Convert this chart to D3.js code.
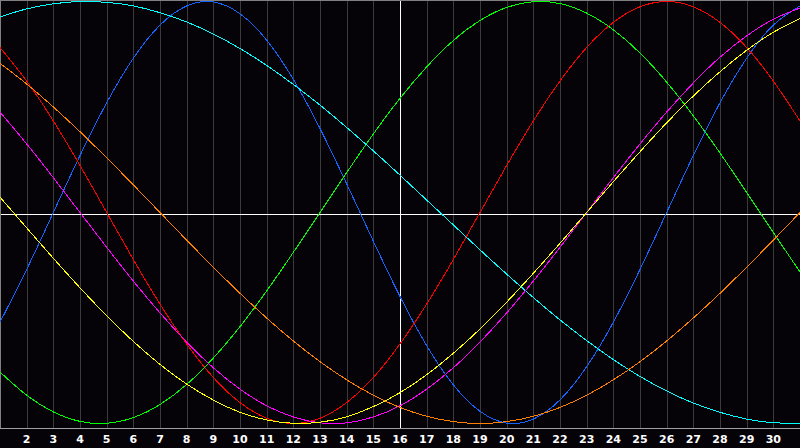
<!DOCTYPE html>
<html>
<head>
<meta charset="utf-8">
<script src="https://cdn.jsdelivr.net/npm/d3@7"></script>
<style>
    body { margin: 0; background: #050308; }
    svg { display: block; }
</style>
</head>
<body>
<script>
// days of the month shown on the x axis
const days = d3.range(1, 32);
const tickDays = d3.range(2, 31);

// values in percent, one per day
const physical = [-52.0, -27.0, 0, 27.0, 52.0, 73.1, 88.8, 97.9, 99.8, 94.2, 81.7, 63.1, 39.8, 13.6, -13.6, -39.8, -63.1, -81.7, -94.2, -99.8, -97.9, -88.8, -73.1, -52.0, -27.0, 0, 27.0, 52.0, 73.1, 88.8, 97.9];
const emotional = [78.2, 62.3, 43.4, 22.3, 0, -22.3, -43.4, -62.3, -78.2, -90.1, -97.5, -100, -97.5, -90.1, -78.2, -62.3, -43.4, -22.3, 0, 22.3, 43.4, 62.3, 78.2, 90.1, 97.5, 100, 97.5, 90.1, 78.2, 62.3, 43.4];
const intellectual = [-75.6, -86.6, -94.5, -99.0, -99.9, -97.2, -91.0, -81.5, -69.0, -54.1, -37.2, -18.9, 0, 18.9, 37.2, 54.1, 69.0, 81.5, 91.0, 97.2, 99.9, 99.0, 94.5, 86.6, 75.6, 61.8, 45.8, 28.2, 9.5, -9.5, -28.2];
const spiritual = [92.7, 96.5, 98.9, 100.0, 99.6, 97.9, 94.7, 90.3, 84.6, 77.7, 69.7, 60.7, 50.9, 40.3, 29.2, 17.7, 5.9, -5.9, -17.7, -29.2, -40.3, -50.9, -60.7, -69.7, -77.7, -84.6, -90.3, -94.7, -97.9, -99.6, -100.0];
const intuitive = [47.6, 32.5, 16.5, 0, -16.5, -32.5, -47.6, -61.4, -73.6, -83.7, -91.6, -96.9, -99.7, -99.7, -96.9, -91.6, -83.7, -73.6, -61.4, -47.6, -32.5, -16.5, 0, 16.5, 32.5, 47.6, 61.4, 73.6, 83.7, 91.6, 96.9];
const aesthetic = [7.3, -7.3, -21.7, -35.7, -48.9, -61.1, -72.0, -81.3, -88.9, -94.7, -98.3, -99.9, -99.4, -96.8, -92.0, -85.4, -76.9, -66.7, -55.2, -42.5, -28.8, -14.6, 0, 14.6, 28.8, 42.5, 55.2, 66.7, 76.9, 85.4, 92.0];
const awareness = [70.7, 60.9, 50.0, 38.3, 25.9, 13.1, 0, -13.1, -25.9, -38.3, -50.0, -60.9, -70.7, -79.3, -86.6, -92.4, -96.6, -99.1, -100, -99.1, -96.6, -92.4, -86.6, -79.3, -70.7, -60.9, -50.0, -38.3, -25.9, -13.1, 0];

const seriesNames = ["physical", "emotional", "intellectual", "spiritual", "intuitive", "aesthetic", "awareness"];
const seriesValues = [physical, emotional, intellectual, spiritual, intuitive, aesthetic, awareness];
const seriesColors = ["#1464ff", "#ff0000", "#00ff00", "#00ffff", "#ff00ff", "#ffff00", "#ff8000"];

const width = 800;
const height = 448;
const plotBottom = 428;

const svg = d3.select("body").append("svg")
    .attr("width", width)
    .attr("height", height)
    .style("background", "#050308");

const xScale = d3.scaleLinear()
    .domain([1, 31])
    .range([0, width]);

const yScale = d3.scaleLinear()
    .domain([-100, 100])
    .range([423.5, 1.5]);

const px = v => Math.round(v) + 0.5;

// day grid
svg.append("g")
    .selectAll("line")
    .data(tickDays)
    .join("line")
    .attr("x1", d => px(xScale(d)))
    .attr("x2", d => px(xScale(d)))
    .attr("y1", 0)
    .attr("y2", plotBottom)
    .attr("stroke", d => d === 16 ? "#ffffff" : "#3a3a3a")
    .attr("shape-rendering", "crispEdges");

// middle line of the plot
svg.append("line")
    .attr("x1", 0)
    .attr("x2", width)
    .attr("y1", plotBottom / 2 + 0.5)
    .attr("y2", plotBottom / 2 + 0.5)
    .attr("stroke", "#ffffff")
    .attr("shape-rendering", "crispEdges");

// frame
svg.append("path")
    .attr("d", "M0.5," + plotBottom + "V0.5H" + width)
    .attr("fill", "none")
    .attr("stroke", "#808080")
    .attr("shape-rendering", "crispEdges");

svg.append("line")
    .attr("x1", 0)
    .attr("x2", width)
    .attr("y1", plotBottom + 0.5)
    .attr("y2", plotBottom + 0.5)
    .attr("stroke", "#a0a0a0")
    .attr("shape-rendering", "crispEdges");

const line = d3.line()
    .x((d, i) => xScale(days[i]))
    .y(d => yScale(d))
    .curve(d3.curveNatural);

svg.append("g")
    .selectAll("path")
    .data(seriesValues)
    .join("path")
    .attr("class", (d, i) => "cycle " + seriesNames[i])
    .attr("d", line)
    .attr("fill", "none")
    .attr("stroke", (d, i) => seriesColors[i])
    .attr("stroke-width", 1)
    .attr("shape-rendering", "crispEdges");

// day labels
svg.append("g")
    .selectAll("text")
    .data(tickDays)
    .join("text")
    .attr("x", d => xScale(d))
    .attr("y", 443)
    .attr("text-anchor", "middle")
    .style("font-family", "'DejaVu Sans', sans-serif")
    .style("font-weight", "bold")
    .style("font-size", "11px")
    .style("fill", "#ffffff")
    .text(d => d);
</script>
</body>
</html>
